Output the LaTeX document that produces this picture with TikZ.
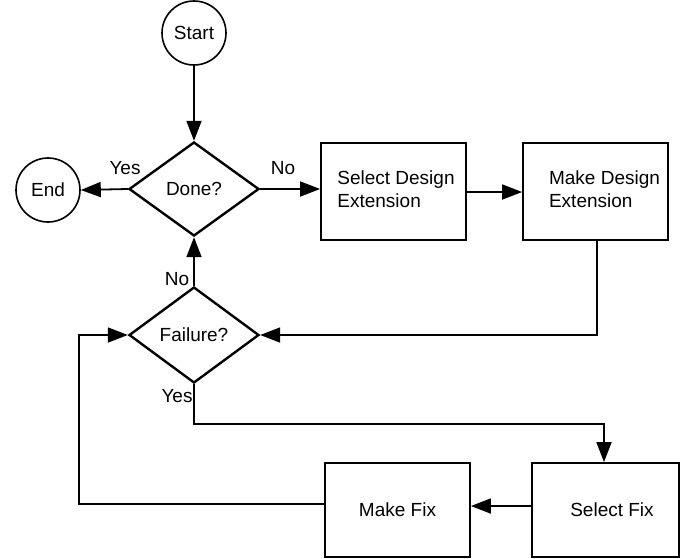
\documentclass[tikz,border=0pt]{standalone}
\usepackage{fontspec}
\setmainfont{Liberation Sans}
\usetikzlibrary{shapes.geometric,arrows.meta,calc}
\begin{document}
\begin{tikzpicture}[x=1pt,y=-1pt,
  every node/.style={font=\fontsize{19}{23}\selectfont},
  term/.style={circle,draw,line width=1.6pt,minimum size=64pt,inner sep=0pt},
  decide/.style={diamond,draw,line width=2.4pt,minimum width=130pt,minimum height=94pt,inner sep=0pt},
  procbox/.style={rectangle,draw,line width=1.8pt,inner sep=0pt},
  lbl/.style={inner sep=0pt},
  conn/.style={line width=1.8pt,-{Triangle[length=20pt,width=15pt]}},
  plain/.style={line width=1.8pt}]
\useasboundingbox (0,0) rectangle (682,558);
\node[term] (start) at (194,33) {Start};
\node[decide] (done) at (194,189) {Done?};
\node[term] (end) at (48,190) {End};
\node[procbox,minimum width=145pt,minimum height=97pt] (sde) at (393.5,191.5)
  {\hspace*{5pt}\begin{tabular}{@{}l@{}}Select Design\\Extension\end{tabular}};
\node[procbox,minimum width=145pt,minimum height=97pt] (mde) at (595.5,191.5)
  {\hspace*{18pt}\begin{tabular}{@{}l@{}}Make Design\\Extension\end{tabular}};
\node[decide,minimum height=96pt] (fail) at (194,335) {Failure?};
\node[procbox,minimum width=147pt,minimum height=94pt] (selfix) at (605.5,510) {\hspace*{13pt}Select Fix};
\node[procbox,minimum width=145pt,minimum height=94pt] (makefix) at (397.5,510) {Make Fix};
\node[lbl] (lyes1) at (125,168) {Yes};
\node[lbl] (lno1) at (283,168) {No};
\node[lbl] (lno2) at (177,279) {No};
\node[lbl] (lyes2) at (177,396) {Yes};
\draw[conn] (start) -- (done.north);
\draw[conn] (done.west) -- (end.east);
\draw[conn] (done.east) -- (done.east -| sde.west);
\draw[conn] (sde.east |- 0,192) -- (mde.west |- 0,192);
\draw[conn] ($(mde.south)+(1.5,0)$) |- (fail.east);
\draw[conn] (fail.north) -- (done.south);
\draw[conn] (fail.south) -- ++(0,40) -| ($(selfix.north)+(-1.5,0)$);
\draw[conn] (selfix.west |- 0,506) -- (makefix.east |- 0,506);
\draw[conn] (makefix.west |- 0,504) -- ++(-245,0) |- (fail.west);
\end{tikzpicture}
\end{document}
